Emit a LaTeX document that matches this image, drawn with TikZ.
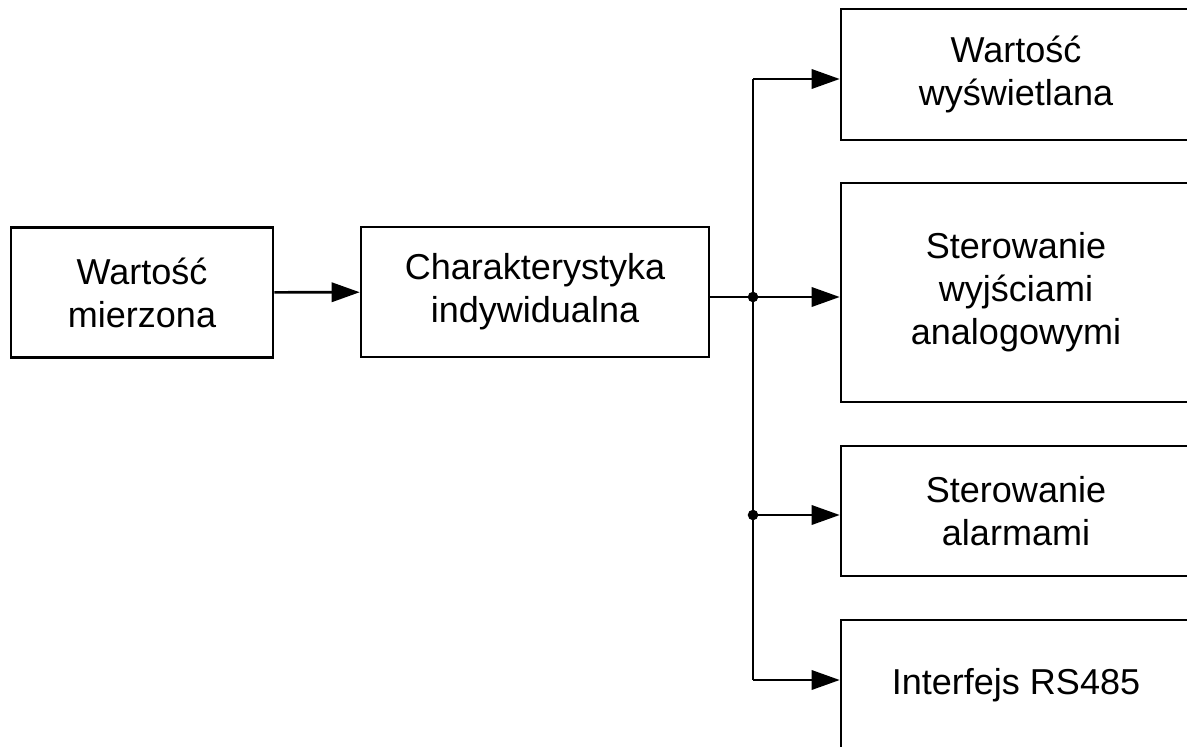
\documentclass[tikz,border=0pt]{standalone}
\usepackage{fontspec}
\setmainfont{Liberation Sans}
\usetikzlibrary{arrows.meta,positioning,calc}

\begin{document}
\begin{tikzpicture}[
    x=0.02cm, y=-0.02cm,
    line width=1.5pt,
    block/.style = {draw, rectangle, align=center, inner sep=2pt,
        font=\fontsize{20.5pt}{24.5pt}\selectfont},
    arr/.style = {-{Triangle[length=16pt, width=11pt]}},
    junction/.style = {circle, fill, inner sep=0pt, minimum size=6pt}
]
    \useasboundingbox (0,0) rectangle (1187,747);
    \clip (0,0) rectangle (1187,747);

    \node[block, minimum width=5.24cm, minimum height=2.61cm] (meas) at (142, 292.5) {Warto\'s\'c\\mierzona};
    \node[block, minimum width=6.96cm, minimum height=2.6cm] (chr) at (535, 292) {Charakterystyka\\indywidualna};

    \node[block, minimum width=7cm, minimum height=2.62cm] (disp) at (1016, 74.5) {Warto\'s\'c\\wy\'swietlana};
    \node[block, minimum width=7cm, minimum height=4.38cm] (anlg) at (1016, 292.5) {Sterowanie\\wyj\'sciami\\analogowymi};
    \node[block, minimum width=7cm, minimum height=2.6cm] (alrm) at (1016, 511) {Sterowanie\\alarmami};
    \node[block, minimum width=7cm, minimum height=2.62cm] (rs) at (1016, 685.5) {Interfejs RS485};

    \coordinate (b1) at (753, 79);
    \coordinate (b2) at (753, 297);
    \coordinate (b3) at (753, 515);
    \coordinate (b4) at (753, 680);

    \draw[arr] (meas) -- (chr);
    \draw (chr.east |- b2) -- (b2);
    \draw (b1) -- (b4);

    \draw[arr] (b1) -- (b1 -| disp.west);
    \draw[arr] (b2) -- (b2 -| anlg.west);
    \draw[arr] (b3) -- (b3 -| alrm.west);
    \draw[arr] (b4) -- (b4 -| rs.west);

    \node[junction] (j2) at (b2) {};
    \node[junction] (j3) at (b3) {};
\end{tikzpicture}
\end{document}
